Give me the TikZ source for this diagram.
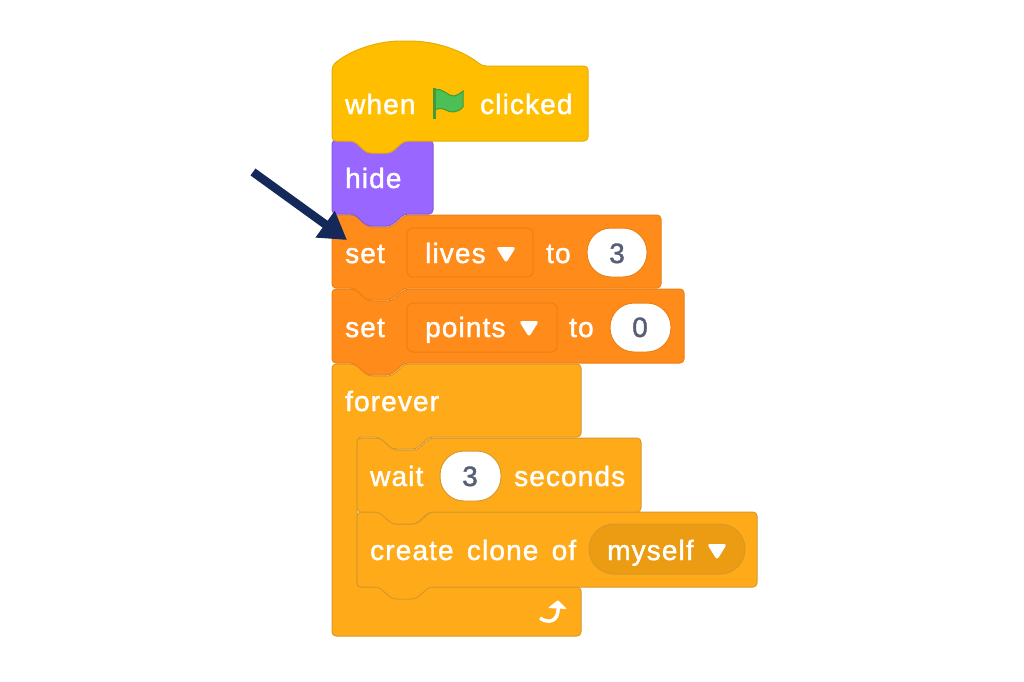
\documentclass[tikz,border=0pt]{standalone}
\usepackage{fontspec}
\usepackage{xcolor}
\setmainfont{Liberation Sans}[FakeBold=1.4,LetterSpace=4,WordSpace=1.5]
\usetikzlibrary{positioning,arrows.meta,shapes}
\definecolor{hatfill}{HTML}{FFBF00}
\definecolor{hatline}{HTML}{E6AC00}
\definecolor{looksfill}{HTML}{9966FF}
\definecolor{looksline}{HTML}{855CD6}
\definecolor{varfill}{HTML}{FF8C1A}
\definecolor{varline}{HTML}{EB8014}
\definecolor{ctrlfill}{HTML}{FFAB19}
\definecolor{ctrlline}{HTML}{D9982A}
\definecolor{ctrldark}{HTML}{EC9C13}
\definecolor{numtext}{HTML}{575E75}
\definecolor{flagfill}{HTML}{4CBF56}
\definecolor{flagline}{HTML}{45993D}
\definecolor{navy}{HTML}{14285A}
\tikzset{
  block/.style   ={rounded corners=4pt, line width=1pt},
  lbl/.style     ={anchor=base west, inner sep=0pt, text=white, font=\fontsize{28}{28}\selectfont},
  num/.style     ={anchor=base, inner sep=0pt, text=numtext, font=\fontsize{28}{28}\selectfont},
  pill/.style    ={draw=#1, fill=white, rounded corners=24pt, line width=1pt},
  dropbox/.style ={draw=varline, fill=varfill, rounded corners=6pt, line width=1pt},
  pointer/.style ={line width=8.5pt, draw=navy, -{Triangle[length=27pt,width=31pt]}}
}
% stacking block: left, top, right, bottom, fill, line
\newcommand{\stackblock}[6]{
  \draw[block, fill=#5, draw=#6] (#1,#2) -- ++(23,0) -- ++(13,12) -- ++(24,0) -- ++(13,-12)
    -- (#3,#2) -- (#3,#4) -- ({#1+72},#4) -- ++(-13,12) -- ++(-24,0) -- ++(-13,-12)
    -- (#1,#4) -- cycle;
}
% small menu triangle at centre x, top y
\newcommand{\menumark}[2]{
  \fill[white, rounded corners=3pt] ({#1-10},{#2-1}) -- ({#1+10},{#2-1}) -- (#1,{#2+15}) -- cycle;
}
\begin{document}
\begin{tikzpicture}[x=1pt,y=-1pt]
    \useasboundingbox (0,0) rectangle (1024,681);
    \fill[white] (0,0) rectangle (1024,681);
    % forever with its two inner blocks
    \draw[block, fill=ctrlfill, draw=ctrlline] (332,364) -- ++(23,0) -- ++(13,12) -- ++(24,0) -- ++(13,-12)
      -- (581,364) -- (581,437) -- (429,437) -- ++(-13,12) -- ++(-24,0) -- ++(-13,-12)
      -- (357,437) -- (357,587) -- (581,587) -- (581,636) -- (332,636) -- cycle;
    \stackblock{357}{512}{757}{587}{ctrlfill}{ctrlline}
    \stackblock{357}{438}{641}{512}{ctrlfill}{ctrlline}
    % set blocks
    \stackblock{332}{289}{684}{363}{varfill}{varline}
    \stackblock{332}{215}{661}{288}{varfill}{varline}
    % hide
    \stackblock{332}{140}{433}{214}{looksfill}{looksline}
    % hat
    \draw[block, fill=hatfill, draw=hatline] (332,66) .. controls (350,50) and (378,41) .. (405,41)
      .. controls (438,41) and (465,52) .. (482,66) -- (588,66) -- (588,141) -- (404,141)
      -- ++(-13,12) -- ++(-24,0) -- ++(-13,-12) -- (332,141) -- cycle;
    % flag
    \draw[fill=flagfill, draw=flagline, line width=1pt] (435,90) .. controls (443,87) and (448,97) .. (454,96)
      .. controls (458,95) and (461,93) .. (463,91) -- (463,107)
      .. controls (458,113) and (450,113) .. (446,110) .. controls (442,108) and (438,108) .. (435,110) -- cycle;
    \draw[flagline, line width=3pt] (434,88) -- (434,119);
    % inputs
    \draw[dropbox] (407,228) rectangle (533,277);
    \draw[dropbox] (407,303) rectangle (557,352);
    \draw[pill=varline] (587,228) rectangle (647,277);
    \draw[pill=varline] (610,303) rectangle (671,352);
    \draw[pill=ctrlline] (440,451) rectangle (501,501);
    \draw[draw=ctrlline, fill=ctrldark, rounded corners=24.9pt, line width=1pt] (589,524) rectangle (745,574);
    % labels
    \node[lbl] (when) at (345,114) {when};
    \node[lbl] (clicked) at (480,114) {clicked};
    \node[lbl] (hide) at (345,188) {hide};
    \node[lbl] (setl) at (345,263) {set};
    \node[lbl] (lives) at (425,263) {lives};
    \node[lbl] (tol) at (546,263) {to};
    \node[num] (numl) at (617,263) {3};
    \node[lbl] (setp) at (345,337) {set};
    \node[lbl] (points) at (425,337) {points};
    \node[lbl] (top) at (569,337) {to};
    \node[num] (nump) at (640,337) {0};
    \node[lbl] (forever) at (345,411) {forever};
    \node[lbl] (wait) at (370,486) {wait};
    \node[num] (numw) at (470,486) {3};
    \node[lbl] (seconds) at (514,486) {seconds};
    \node[lbl] (create) at (370,560) {create clone of};
    \node[lbl] (myself) at (607,560) {myself};
    \menumark{506}{248}
    \menumark{529}{322}
    \menumark{717}{545}
    % loop arrow
    \draw[white, line width=3.5pt] (540,618) .. controls (548,624) and (559,622) .. (558,607);
    \fill[white, rounded corners=1pt] (558,600) -- (567,609) -- (548,608) -- cycle;
    % pointer
    \coordinate (ptrstart) at (253,172);
    \coordinate (ptrtip) at (347,240);
    \draw[pointer] (ptrstart) -- (ptrtip);
\end{tikzpicture}
\end{document}
